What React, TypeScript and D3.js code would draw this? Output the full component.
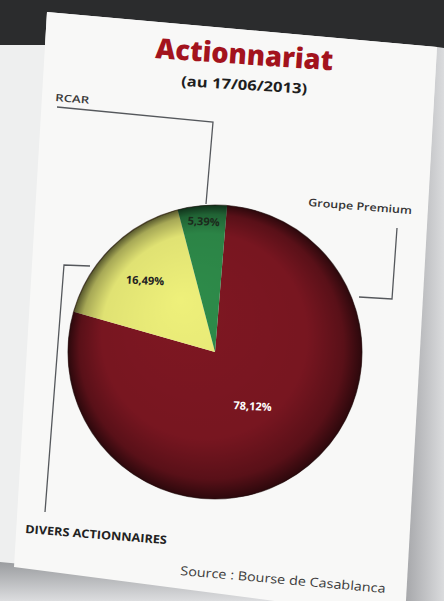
import React from 'react';
import * as d3 from 'd3';

// Actionnariat au 17/06/2013
const categories = ['Groupe Premium', 'DIVERS ACTIONNAIRES', 'RCAR'];
const shares = [78.12, 16.49, 5.39];
const shareLabels = ['78,12%', '16,49%', '5,39%'];
const sliceColors = ['#7f1722', '#eef07a', '#2e8c4a'];
const labelColors = ['#ffffff', '#222222', '#1c2a1c'];

const W = 444;
const H = 601;
const cx = 215;
const cy = 352;
const R = 147;
// rayon de placement des pourcentages, par tranche
const labelRadius = [66, 100, 131];

const font = "'Open Sans', 'Noto Sans', sans-serif";

const App: React.FC = () => {
  const data = categories.map((c, i) => ({ name: c, value: shares[i], label: shareLabels[i], i }));

  const start = (4.7 * Math.PI) / 180;
  const pie = d3.pie<typeof data[number]>()
    .sort(null)
    .value(d => d.value)
    .startAngle(start)
    .endAngle(start + Math.PI * 2);
  const arcs = pie(data);

  const arc = d3.arc<d3.PieArcDatum<typeof data[number]>>()
    .innerRadius(0)
    .outerRadius(R);

  const tilt = (x: number, y: number, a = 4.5) => `rotate(${a} ${x} ${y})`;

  return (
    <svg
      width={W}
      height={H}
      style={{ position: 'fixed', left: 0, top: 0 }}
      xmlns="http://www.w3.org/2000/svg"
    >
      <defs>
        <radialGradient id="shade" cx="0.5" cy="0.5" r="0.5" fx="0.38" fy="0.32">
          <stop offset="0%" stopColor="#000" stopOpacity={0} />
          <stop offset="70%" stopColor="#000" stopOpacity={0.06} />
          <stop offset="90%" stopColor="#000" stopOpacity={0.3} />
          <stop offset="100%" stopColor="#000" stopOpacity={0.65} />
        </radialGradient>
        <linearGradient id="bottomShadow" x1="0" y1="0" x2="0" y2="1">
          <stop offset="0%" stopColor="#9a9c9f" />
          <stop offset="100%" stopColor="#dcdddf" />
        </linearGradient>
        <linearGradient id="rightShadow" x1="0" y1="0" x2="1" y2="0">
          <stop offset="0%" stopColor="#a4a5a8" />
          <stop offset="100%" stopColor="#dadbdd" />
        </linearGradient>
      </defs>

      {/* fond de la photo */}
      <rect x={0} y={0} width={W} height={H} fill="#eeefef" />
      <polygon points={`437,47 ${W},48 ${W},${H} 404,${H}`} fill="url(#rightShadow)" />
      <polygon points={`0,562 404,600 404,${H} 0,${H}`} fill="url(#bottomShadow)" />
      <polygon points={`0,0 ${W},0 ${W},48 437,47 47,12 45,45 0,45`} fill="#2b2c2d" />

      {/* la page */}
      <polygon points="47,12 437,47 405,618 14,567" fill="#f8f8f7" />

      {/* titre */}
      <text
        x={155}
        y={58}
        transform={tilt(155, 58, 4)}
        fontFamily={font}
        fontWeight={800}
        fontSize={28}
        fill="#a3131d"
        textLength={178}
        lengthAdjust="spacingAndGlyphs"
      >
        Actionnariat
      </text>
      <text
        x={181}
        y={86}
        transform={tilt(181, 86, 3.5)}
        fontFamily={font}
        fontWeight={700}
        fontSize={14}
        fill="#1e1e1e"
        textLength={126}
        lengthAdjust="spacingAndGlyphs"
      >
        (au 17/06/2013)
      </text>

      {/* lignes de rappel */}
      <g fill="none" stroke="#55585c" strokeWidth={1.3}>
        <polyline points="57,107 213,122 206,204" />
        <polyline points="397,228 392,299 359,297" />
        <polyline points="90,266 64,265 45,512" />
      </g>

      {/* camembert */}
      <g transform={`translate(${cx},${cy})`}>
        {arcs.map(a => (
          <path key={a.data.name} d={arc(a) ?? ''} fill={sliceColors[a.data.i]} />
        ))}
        <circle r={R} fill="url(#shade)" />
        <circle r={R} fill="none" stroke="#1a0a0a" strokeOpacity={0.6} strokeWidth={1.2} />
        {arcs.map(a => {
          const mid = (a.startAngle + a.endAngle) / 2;
          const r = labelRadius[a.data.i];
          const x = Math.sin(mid) * r;
          const y = -Math.cos(mid) * r;
          return (
            <text
              key={a.data.name + '-l'}
              x={x}
              y={y}
              dy="0.35em"
              textAnchor="middle"
              fontFamily={font}
              fontWeight={700}
              fontSize={11}
              fill={labelColors[a.data.i]}
              transform={tilt(x, y, 3)}
            >
              {a.data.label}
            </text>
          );
        })}
      </g>

      {/* étiquettes */}
      <text
        x={55}
        y={101}
        transform={tilt(55, 101)}
        fontFamily={font}
        fontWeight={600}
        fontSize={10}
        fill="#3a3a3a"
        textLength={34}
        lengthAdjust="spacingAndGlyphs"
      >
        {categories[2]}
      </text>
      <text
        x={308}
        y={206}
        transform={tilt(308, 206)}
        fontFamily={font}
        fontWeight={600}
        fontSize={10.5}
        fill="#333"
        textLength={104}
        lengthAdjust="spacingAndGlyphs"
      >
        {categories[0]}
      </text>
      <text
        x={25}
        y={533}
        transform={tilt(25, 533)}
        fontFamily={font}
        fontWeight={700}
        fontSize={11.5}
        fill="#222"
        textLength={142}
        lengthAdjust="spacingAndGlyphs"
      >
        {categories[1]}
      </text>
      <text
        x={180}
        y={575}
        transform={tilt(180, 575, 5)}
        fontFamily={font}
        fontWeight={400}
        fontSize={12.5}
        fill="#3c3c3c"
        textLength={206}
        lengthAdjust="spacingAndGlyphs"
      >
        Source : Bourse de Casablanca
      </text>
    </svg>
  );
};

export default App;
